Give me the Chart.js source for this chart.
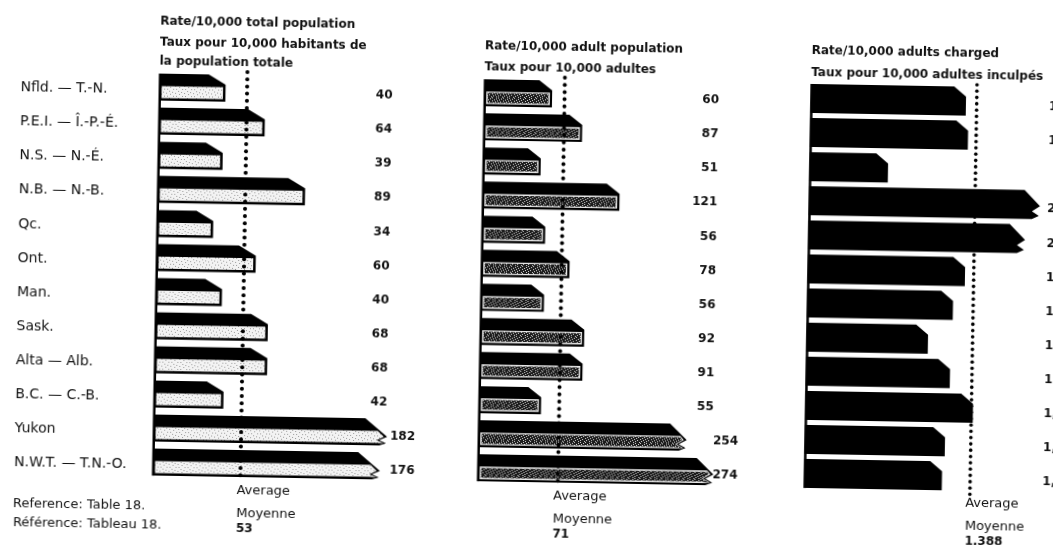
<!DOCTYPE html>
<html>
<head>
<meta charset="utf-8">
<script src="https://cdn.jsdelivr.net/npm/chart.js@4.4.0/dist/chart.umd.min.js"></script>
<style>
  html, body { margin: 0; padding: 0; background: #fff; }
  body { width: 1053px; height: 545px; overflow: hidden; position: relative; }
  /* the scanned page sits about one degree off square */
  #stage { position: absolute; left: 0; top: 0; width: 1110px; height: 580px;
           transform-origin: 526px 272px; transform: rotate(1deg); }
  #stage canvas { position: absolute; left: 0; top: 0; }
</style>
</head>
<body>
<div id="stage">
  <canvas id="c1" width="1110" height="580"></canvas>
  <canvas id="c2" width="1110" height="580"></canvas>
  <canvas id="c3" width="1110" height="580"></canvas>
</div>
<script>
var provinces = ["Nfld. \u2014 T.-N.", "P.E.I. \u2014 \u00ce.-P.-\u00c9.", "N.S. \u2014 N.-\u00c9.", "N.B. \u2014 N.-B.",
  "Qc.", "Ont.", "Man.", "Sask.", "Alta \u2014 Alb.", "B.C. \u2014 C.-B.", "Yukon", "N.W.T. \u2014 T.N.-O."];

var totalRate = [40, 64, 39, 89, 34, 60, 40, 68, 68, 42, 182, 176];
var adultRate = [60, 87, 51, 121, 56, 78, 56, 92, 91, 55, 254, 274];
var chargedRate = [1298, 1320, 656, 2376, 2214, 1315, 1219, 1015, 1204, 1401, 1172, 1152];
var averages = [53, 71, 1388];

// where the long bars are broken off (axis units); null = bar drawn in full
var totalCut = [null, null, null, null, null, null, null, null, null, null, 141, 137];
var adultCut = [null, null, null, null, null, null, null, null, null, null, 184, 208];
var chargedCut = [null, null, null, 1932, 1812, null, null, null, null, null, null, null];

var titles = [
  ["Rate/10,000 total population", "Taux pour 10,000 habitants de", "la population totale"],
  ["Rate/10,000 adult population", "Taux pour 10,000 adultes"],
  ["Rate/10,000 adults charged", "Taux pour 10,000 adultes inculp\u00e9s"]
];
var avgWords = ["Average", "Moyenne"];
var footnotes = ["Reference: Table 18.", "R\u00e9f\u00e9rence: Tableau 18."];

var FONT = "'DejaVu Sans', 'Liberation Sans', sans-serif";
var INK = "#111";
var W = 1110, H = 580;
var AREA_TOP = 76.45, AREA_BOTTOM = 485.65;

// small fixed speckle tiles for the scanned screen tones
function tile(base, dot, rows) {
  var c = document.createElement("canvas");
  c.width = rows[0].length;
  c.height = rows.length;
  var g = c.getContext("2d");
  g.fillStyle = base;
  g.fillRect(0, 0, c.width, c.height);
  g.fillStyle = dot;
  rows.forEach(function (r, y) {
    for (var x = 0; x < r.length; x++) if (r[x] === "1") g.fillRect(x, y, 1, 1);
  });
  return c;
}
var lightTile = tile("#f3f3f3", "#9a9a9a", ["000000010", "010000000", "000001000", "000000000", "001000001", "000000000", "000010000"]);
var darkTile = tile("#1c1c1c", "#d0d0d0", [
  "10000100000", "00010000010", "01000001000", "00000100001",
  "00100000100", "10000010000", "00001000010"]);

var panels = [
  { canvas: "c1", values: totalRate, cuts: totalCut, average: averages[0], title: titles[0],
    titleY: [27.5, 48.5, 67.5], base: 156, pxPerUnit: 1.66, max: 150, barPct: 0.792,
    style: "light", slant: 17, band: 10, tip: 0.68,
    labelRight: 389.5, labelRightCut: 418, labelDy: 4.5, dotGap: 7.2, dotR: 2, avgDx: -3.5, fmt: false },
  { canvas: "c2", values: adultRate, cuts: adultCut, average: averages[1], title: titles[1],
    titleY: [46.5, 67.8], base: 481, pxPerUnit: 1.134, max: 220, barPct: 0.792,
    style: "dark", slant: 13, band: 10, tip: 0.6,
    labelRight: 716, labelRightCut: 741, labelDy: 3.5, dotGap: 7.2, dotR: 2, avgDx: -4.5, fmt: false },
  { canvas: "c3", values: chargedRate, cuts: chargedCut, average: averages[2], title: titles[2],
    titleY: [46.2, 68], base: 807.7, pxPerUnit: 0.1196, max: 2000, barPct: 0.85,
    style: "solid", slant: 12, band: 10, tip: 0.55,
    labelRight: 1084, labelRightCut: 1084, labelDy: 4.5, dotGap: 6.3, dotR: 1.8, avgDx: -4.5, fmt: true }
];

function fmtNum(v, thousands) {
  var s = String(v);
  if (!thousands) return s;
  return s.replace(/\B(?=(\d{3})+(?!\d))/g, ",");
}

function poly(ctx, pts, fill) {
  ctx.beginPath();
  ctx.moveTo(pts[0][0], pts[0][1]);
  for (var i = 1; i < pts.length; i++) ctx.lineTo(pts[i][0], pts[i][1]);
  ctx.closePath();
  ctx.fillStyle = fill;
  ctx.fill();
}

function outline(p, L, R, T, B, cut) {
  if (!cut) return [[L, T], [R - p.slant, T], [R, T + p.band], [R, B], [L, B]];
  var tip = T + p.tip * (B - T), rest = B - tip, sw = p.slant * 1.3;
  return [[L, T], [R - sw, T], [R, tip], [R - 8, tip + rest * 0.4],
    [R - 1, tip + rest * 0.75], [R - 8, B], [L, B]];
}

function inner(p, L, R, T, B, cut, d) {
  var yb = T + p.band + d;
  if (!cut) return [[L + d, yb], [R - d, yb], [R - d, B - d], [L + d, B - d]];
  var tip = T + p.tip * (B - T), rest = B - tip, sw = p.slant * 1.3;
  var xs = R - sw + sw * (yb - T) / (tip - T);
  return [[L + d, yb], [xs - d, yb], [R - d * 1.3, tip], [R - 8 - d, tip + rest * 0.4],
    [R - 1 - d, tip + rest * 0.75], [R - 8 - d, B - d], [L + d, B - d]];
}

function artPlugin(p, first) {
  return {
    id: "art" + p.canvas,
    afterDatasetsDraw: function (chart) {
      var ctx = chart.ctx;
      var xs = chart.scales.x, ys = chart.scales.y;
      var meta = chart.getDatasetMeta(0);
      var x0 = xs.getPixelForValue(0);
      var lightPat = ctx.createPattern(lightTile, "repeat");
      var darkPat = ctx.createPattern(darkTile, "repeat");
      var topY = null, botY = null;
      ctx.save();

      meta.data.forEach(function (el, i) {
        var bar = el.getProps(["x", "y", "height"], true);
        var T = bar.y - bar.height / 2, B = bar.y + bar.height / 2;
        var cut = p.cuts[i] != null;
        var R = cut ? xs.getPixelForValue(p.cuts[i]) : bar.x;
        if (topY === null) topY = T;
        botY = B;
        poly(ctx, outline(p, x0, R, T, B, cut), "#000");
        if (p.style === "light") {
          poly(ctx, inner(p, x0, R, T, B, cut, 2.5), lightPat);
        } else if (p.style === "dark") {
          poly(ctx, inner(p, x0, R, T, B, cut, 2.2), "#e8e8e8");
          poly(ctx, inner(p, x0, R, T, B, cut, 3.6), darkPat);
        }

        // value label
        ctx.fillStyle = INK;
        ctx.font = "bold 12px " + FONT;
        ctx.textBaseline = "middle";
        ctx.textAlign = "right";
        ctx.fillText(fmtNum(p.values[i], p.fmt), cut ? p.labelRightCut : p.labelRight, bar.y + p.labelDy);

        if (first) {
          ctx.textAlign = "left";
          ctx.font = "14px " + FONT;
          ctx.fillText(chart.data.labels[i], 17.5, ys.getPixelForValue(i) + 3);
        }
      });

      // baseline on the left of the bars
      ctx.fillStyle = "#000";
      ctx.fillRect(x0 - 0.5, topY, 2.5, botY - topY);

      // dotted average line
      var ax = xs.getPixelForValue(p.average);
      for (var y = 77; y <= 487; y += p.dotGap) {
        ctx.beginPath();
        ctx.arc(ax, y, p.dotR, 0, Math.PI * 2);
        ctx.fill();
      }

      // titles
      ctx.fillStyle = INK;
      ctx.textAlign = "left";
      ctx.textBaseline = "middle";
      ctx.font = "bold 12px " + FONT;
      p.title.forEach(function (t, k) { ctx.fillText(t, p.base, p.titleY[k]); });

      // average caption
      ctx.font = "13px " + FONT;
      ctx.fillText(avgWords[0], ax + p.avgDx, 496);
      ctx.fillText(avgWords[1], ax + p.avgDx, 519);
      ctx.font = "bold 12px " + FONT;
      ctx.fillText(fmtNum(p.average, p.fmt), ax + p.avgDx, 533.5);

      if (first) {
        ctx.font = "13px " + FONT;
        ctx.fillText(footnotes[0], 17, 513);
        ctx.fillText(footnotes[1], 17.4, 532);
      }
      ctx.restore();
    }
  };
}

panels.forEach(function (p, idx) {
  var right = p.base + p.pxPerUnit * p.max;
  new Chart(document.getElementById(p.canvas), {
    type: "bar",
    data: {
      labels: provinces,
      datasets: [{
        data: p.values,
        backgroundColor: "rgba(0,0,0,0)",
        borderWidth: 0,
        barPercentage: p.barPct,
        categoryPercentage: 1
      }]
    },
    options: {
      indexAxis: "y",
      responsive: false,
      animation: false,
      events: [],
      layout: { padding: { left: p.base, right: W - right, top: AREA_TOP, bottom: H - AREA_BOTTOM } },
      scales: {
        x: { display: false, min: 0, max: p.max },
        y: { display: false }
      },
      plugins: { legend: { display: false }, tooltip: { enabled: false } }
    },
    plugins: [artPlugin(p, idx === 0)]
  });
});
</script>
</body>
</html>
